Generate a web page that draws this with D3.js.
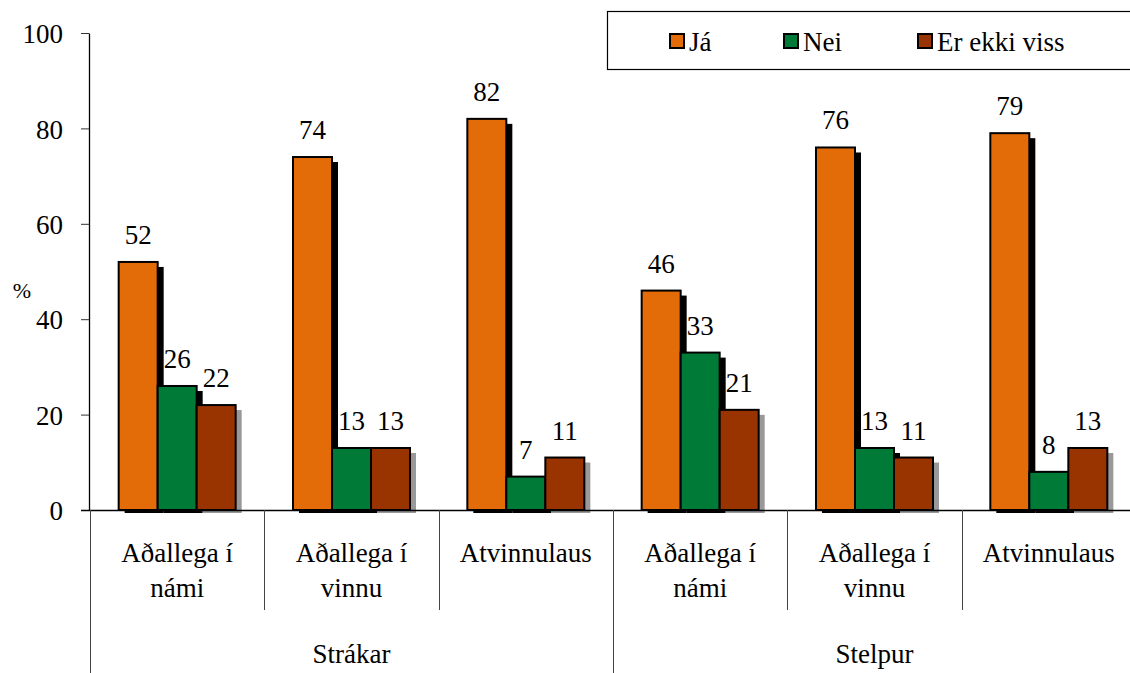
<!DOCTYPE html>
<html><head><meta charset="utf-8">
<script src="https://cdn.jsdelivr.net/npm/d3@7"></script>
<style>
html,body{margin:0;padding:0;background:#fff;}
svg text{font-family:'Liberation Serif','Tinos','DejaVu Serif','Times New Roman',serif !important;fill:#000;}
</style></head>
<body><svg id="c" width="1130" height="673"></svg>
<script>
const groups = ["Strákar","Stelpur"];
const categories = [["Aðallega í","námi"],["Aðallega í","vinnu"],["Atvinnulaus"],["Aðallega í","námi"],["Aðallega í","vinnu"],["Atvinnulaus"]];
const series = ["Já","Nei","Er ekki viss"];
const jaValues = [52,74,82,46,76,79];
const neiValues = [26,13,7,33,13,8];
const veitValues = [22,13,11,21,11,13];
const yTicks = [0,20,40,60,80,100];
const colors = ["#E36C09","#007A37","#993300"];
const shadowColors = ["#000","#000","#999"];
const FONT = "'Liberation Serif','Tinos','DejaVu Serif','Times New Roman',serif";
const FS = 27;

const values = [jaValues, neiValues, veitValues];
const svg = d3.select("#c");
const x0 = d3.scaleBand().domain(d3.range(categories.length)).range([90,1136]).paddingInner(0).paddingOuter(0);
const x1 = d3.scaleBand().domain(d3.range(series.length)).range([0,x0.bandwidth()]).paddingInner(0).paddingOuter(0.735);
const y = d3.scaleLinear().domain([0,100]).range([510,33]);

// y axis
const yAx = svg.append("g").attr("transform","translate(89,0)")
  .call(d3.axisLeft(y).tickValues(yTicks).tickSize(8).tickSizeOuter(0).tickPadding(18));
yAx.attr("font-family",FONT);
yAx.select(".domain").attr("stroke","#000").attr("stroke-width",1.3);
yAx.selectAll(".tick line").attr("stroke","#333").attr("stroke-width",1);
yAx.selectAll(".tick text").attr("font-size",FS).attr("dy","0.36em");
svg.append("text").attr("x",22).attr("y",298).attr("font-size",22).attr("text-anchor","middle").attr("font-family",FONT).text("%");

// shadows then bars per series
series.forEach((s,si)=>{
  const g = svg.append("g");
  g.selectAll("rect.sh").data(values[si]).join("rect")
    .attr("x",(d,i)=>x0(i)+x1(si)+6).attr("y",d=>y(d)+5)
    .attr("width",x1.bandwidth()).attr("height",d=>y(0)-y(d)-2)
    .attr("fill",shadowColors[si]);
  g.selectAll("rect.b").data(values[si]).join("rect")
    .attr("x",(d,i)=>x0(i)+x1(si)).attr("y",d=>y(d))
    .attr("width",x1.bandwidth()).attr("height",d=>y(0)-y(d))
    .attr("fill",colors[si]).attr("stroke","#000").attr("stroke-width",2);
});

// x axis line
svg.append("line").attr("x1",81).attr("x2",1130).attr("y1",510.5).attr("y2",510.5).attr("stroke","#000").attr("stroke-width",1.3);

// value labels
series.forEach((s,si)=>{
  svg.append("g").attr("font-family",FONT).selectAll("text").data(values[si]).join("text")
    .attr("x",(d,i)=>x0(i)+x1(si)+x1.bandwidth()/2)
    .attr("y",d=>y(d)-18)
    .attr("text-anchor","middle").attr("font-size",FS).text(d=>d);
});

// category separators
categories.forEach((c,i)=>{
  const xs = Math.round(x0(i))+0.5;
  const major = (i % 3 === 0);
  svg.append("line").attr("x1",xs).attr("x2",xs).attr("y1",510).attr("y2",major?673:610)
    .attr("stroke","#444").attr("stroke-width",1);
  const t = svg.append("text").attr("text-anchor","middle").attr("font-size",FS).attr("font-family",FONT)
    .attr("x",x0(i)+x0.bandwidth()/2).attr("y",562);
  c.forEach((ln,li)=>t.append("tspan").attr("x",x0(i)+x0.bandwidth()/2).attr("dy",li===0?0:35).text(ln));
});
groups.forEach((gname,gi)=>{
  const a = x0(gi*3), b = x0(gi*3+2)+x0.bandwidth();
  svg.append("text").attr("text-anchor","middle").attr("font-size",FS).attr("font-family",FONT)
    .attr("x",(a+b)/2).attr("y",663).text(gname);
});

// legend
const lg = svg.append("g");
lg.append("rect").attr("x",607.5).attr("y",11.5).attr("width",540).attr("height",58)
  .attr("fill","#fff").attr("stroke","#000").attr("stroke-width",1.2);
const legX = [670,784,918];
series.forEach((s,si)=>{
  lg.append("rect").attr("x",legX[si]).attr("y",34).attr("width",14).attr("height",14)
    .attr("fill",colors[si]).attr("stroke","#000").attr("stroke-width",2);
  lg.append("text").attr("x",legX[si]+19).attr("y",51).attr("font-size",FS).attr("font-family",FONT).text(s);
});
</script></body></html>
